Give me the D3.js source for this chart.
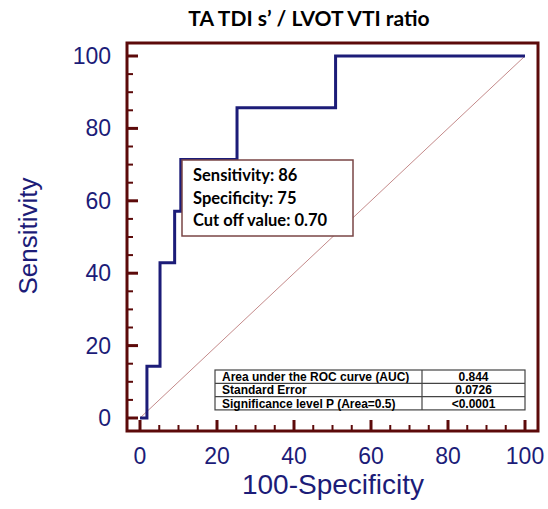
<!DOCTYPE html>
<html><head><meta charset="utf-8">
<script src="https://cdn.jsdelivr.net/npm/d3@7"></script>
<style>body{margin:0;background:#fff}svg{display:block}</style>
</head><body>
<script>
// Data
const rocFpr = [0, 1.8, 1.8, 5.2, 5.2, 9.0, 9.0, 10.6, 10.6, 25.2, 25.2, 50.8, 50.8, 100];
const rocSens = [0, 0, 14.3, 14.3, 42.9, 42.9, 57.1, 57.1, 71.4, 71.4, 85.7, 85.7, 100, 100];
const tickVals = [0, 20, 40, 60, 80, 100];
const minorVals = d3.range(0, 101, 5);
const annotLines = ["Sensitivity: 86", "Specificity: 75", "Cut off value: 0.70"];
const tableLabels = ["Area under the ROC curve (AUC)", "Standard Error", "Significance level P (Area=0.5)"];
const tableValues = ["0.844", "0.0726", "<0.0001"];
const title = "TA TDI s\u2019 / LVOT VTI ratio";

const W = 548, H = 509;
const svg = d3.select("body").append("svg").attr("width", W).attr("height", H);
const x = d3.scaleLinear().domain([0, 100]).range([140, 525]);
const y = d3.scaleLinear().domain([0, 100]).range([418, 56]);
const frame = {l: 127, r: 538, t: 43, b: 431};
const red = "#5c0a0a", navy = "#1c1c78";

// title
svg.append("text").attr("x", 309).attr("y", 26).attr("text-anchor", "middle")
  .attr("font-family", "Lato, 'Open Sans', sans-serif").attr("font-weight", "bold")
  .attr("font-size", 21).attr("fill", "#000").text(title);

// diagonal
svg.append("line").attr("x1", x(0)).attr("y1", y(0)).attr("x2", x(100)).attr("y2", y(100))
  .attr("stroke", "#c48a8a").attr("stroke-width", 1);

// ROC curve
const line = d3.line().x((d, i) => x(rocFpr[i])).y((d, i) => y(rocSens[i]));
svg.append("path").datum(rocFpr).attr("d", line).attr("fill", "none")
  .attr("stroke", navy).attr("stroke-width", 3);

// frame
svg.append("rect").attr("x", frame.l).attr("y", frame.t)
  .attr("width", frame.r - frame.l).attr("height", frame.b - frame.t)
  .attr("fill", "none").attr("stroke", red).attr("stroke-width", 3);

// ticks
const g = svg.append("g");
minorVals.forEach(v => {
  const major = v % 20 === 0;
  const len = major ? 11 : 6;
  g.append("line").attr("x1", frame.l).attr("x2", frame.l + len).attr("y1", y(v)).attr("y2", y(v))
    .attr("stroke", red).attr("stroke-width", major ? 3 : 2);
  g.append("line").attr("y1", frame.b).attr("y2", frame.b - len).attr("x1", x(v)).attr("x2", x(v))
    .attr("stroke", red).attr("stroke-width", major ? 3 : 2);
});

// tick labels
tickVals.forEach(v => {
  svg.append("text").attr("x", 111).attr("y", y(v) + 8).attr("text-anchor", "end")
    .attr("font-family", "Liberation Sans, Arial, sans-serif").attr("font-size", 23)
    .attr("fill", navy).text(v);
  svg.append("text").attr("x", x(v)).attr("y", 464).attr("text-anchor", "middle")
    .attr("font-family", "Liberation Sans, Arial, sans-serif").attr("font-size", 23)
    .attr("fill", navy).text(v);
});

// axis titles
svg.append("text").attr("x", 333).attr("y", 494).attr("text-anchor", "middle")
  .attr("font-family", "Liberation Sans, Arial, sans-serif").attr("font-size", 28)
  .attr("fill", navy).text("100-Specificity");
svg.append("text").attr("transform", "translate(37,236) rotate(-90)").attr("text-anchor", "middle")
  .attr("font-family", "Liberation Sans, Arial, sans-serif").attr("font-size", 26)
  .attr("fill", navy).text("Sensitivity");

// annotation box
svg.append("rect").attr("x", 182).attr("y", 160).attr("width", 171).attr("height", 76)
  .attr("fill", "#fff").attr("stroke", "#7a4646").attr("stroke-width", 1.5);
annotLines.forEach((t, i) => {
  svg.append("text").attr("x", 193).attr("y", 181 + i * 22.5)
    .attr("font-family", "Lato, 'Open Sans', sans-serif").attr("font-weight", "bold")
    .attr("font-size", 16.5).attr("fill", "#000").text(t);
});

// table
const tx0 = 215, tx1 = 422, tx2 = 525, ty0 = 370, rh = 13.3;
svg.append("rect").attr("x", tx0).attr("y", ty0).attr("width", tx2 - tx0).attr("height", rh * 3)
  .attr("fill", "#fff").attr("stroke", "#444").attr("stroke-width", 1.2);
svg.append("line").attr("x1", tx1).attr("x2", tx1).attr("y1", ty0).attr("y2", ty0 + rh * 3)
  .attr("stroke", "#444").attr("stroke-width", 1.2);
tableLabels.forEach((t, i) => {
  if (i > 0) svg.append("line").attr("x1", tx0).attr("x2", tx2).attr("y1", ty0 + rh * i).attr("y2", ty0 + rh * i)
    .attr("stroke", "#444").attr("stroke-width", 1.2);
  svg.append("text").attr("x", 222).attr("y", ty0 + rh * i + 11)
    .attr("font-family", "Liberation Sans, Arial, sans-serif").attr("font-weight", "bold")
    .attr("font-size", 12).attr("fill", "#000").text(t);
  svg.append("text").attr("x", (tx1 + tx2) / 2).attr("y", ty0 + rh * i + 11).attr("text-anchor", "middle")
    .attr("font-family", "Liberation Sans, Arial, sans-serif").attr("font-weight", "bold")
    .attr("font-size", 12).attr("fill", "#000").text(tableValues[i]);
});
</script>
</body></html>
